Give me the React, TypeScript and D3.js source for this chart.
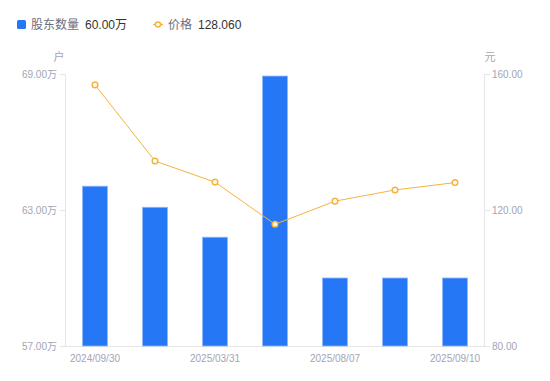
import React from "react";
import * as d3 from "d3";

const categories = ["2024/09/30", "2024/12/31", "2025/03/31", "2025/06/30", "2025/08/07", "2025/08/29", "2025/09/10"];
const shown = ["2024/09/30", "2025/03/31", "2025/08/07", "2025/09/10"];
const holders = [64.05, 63.12, 61.8, 68.91, 60.0, 60.0, 60.0];
const prices = [156.8, 134.4, 128.2, 115.8, 122.6, 125.9, 128.06];
const leftTicks = [57, 63, 69];
const rightTicks = [80, 120, 160];

const W = 550, H = 381;
const L = 65, R = 485, T = 74, B = 346;
const FONT = "'Liberation Sans', 'Noto Sans CJK SC', sans-serif";

export default function App() {
  const x = d3.scaleBand().domain(categories).range([L, R]);
  const yL = d3.scaleLinear().domain([57, 69]).range([B, T]);
  const yR = d3.scaleLinear().domain([80, 160]).range([B, T]);
  const bw = 25;
  const line = d3.line<number>().x((_, i) => x(categories[i])! + x.bandwidth() / 2).y(d => yR(d));
  const gray = "#a3a5b3";
  const axisC = "#e6e6e6";
  return (
    <div style={{ margin: -8 }}>
      <svg width={W} height={H} style={{ display: "block", fontFamily: FONT }}>
        <rect width={W} height={H} fill="#fff" />
        {/* legend */}
        <rect x={17} y={20} width={9} height={9} rx={1.5} fill="#2577f6" />
        <text x={31} y={29} fontSize={12} fill="#6b6e7d">股东数量</text>
        <text x={85} y={29} fontSize={12} fill="#333">60.00万</text>
        <line x1={153} x2={163} y1={24.5} y2={24.5} stroke="#f5b43c" strokeWidth={1.5} />
        <circle cx={158} cy={24.5} r={2.5} fill="#fff" stroke="#f5b43c" strokeWidth={1.5} />
        <text x={168} y={29} fontSize={12} fill="#6b6e7d">价格</text>
        <text x={198} y={29} fontSize={12} fill="#333">128.060</text>
        {/* units */}
        <text x={59} y={61} fontSize={11} fill={gray} textAnchor="middle">户</text>
        <text x={490} y={61} fontSize={11} fill={gray} textAnchor="middle">元</text>
        {/* axes */}
        <line x1={L + 0.5} x2={L + 0.5} y1={T} y2={B} stroke={axisC} />
        <line x1={R - 0.5} x2={R - 0.5} y1={T} y2={B} stroke={axisC} />
        <line x1={L} x2={R} y1={B + 0.5} y2={B + 0.5} stroke={axisC} />
        {leftTicks.map(t => (
          <g key={"l" + t}>
            <line x1={L - 5} x2={L} y1={yL(t) + 0.5} y2={yL(t) + 0.5} stroke={axisC} />
            <text x={L - 8} y={yL(t) + 3.5} fontSize={10} fill={gray} textAnchor="end">{t.toFixed(2)}万</text>
          </g>
        ))}
        {rightTicks.map(t => (
          <g key={"r" + t}>
            <line x1={R} x2={R + 5} y1={yR(t) + 0.5} y2={yR(t) + 0.5} stroke={axisC} />
            <text x={R + 7} y={yR(t) + 3.5} fontSize={10} fill={gray}>{t.toFixed(2)}</text>
          </g>
        ))}
        {categories.map(c => shown.includes(c) ? (
          <text key={"x" + c} x={x(c)! + x.bandwidth() / 2} y={362} fontSize={10} fill={gray} textAnchor="middle">{c}</text>
        ) : null)}
        {/* bars */}
        {holders.map((v, i) => (
          <rect key={"b" + i} x={x(categories[i])! + x.bandwidth() / 2 - bw / 2} y={yL(v)} width={bw} height={B - yL(v)}
            fill="#2577f6" stroke="#8fb8fa" strokeWidth={0.8} />
        ))}
        {/* line */}
        <path d={line(prices) || ""} fill="none" stroke="#f5b43c" strokeWidth={1} />
        {prices.map((v, i) => (
          <circle key={"p" + i} cx={x(categories[i])! + x.bandwidth() / 2} cy={yR(v)} r={2.8} fill="#fff" stroke="#f5b43c" strokeWidth={1.5} />
        ))}
      </svg>
    </div>
  );
}
